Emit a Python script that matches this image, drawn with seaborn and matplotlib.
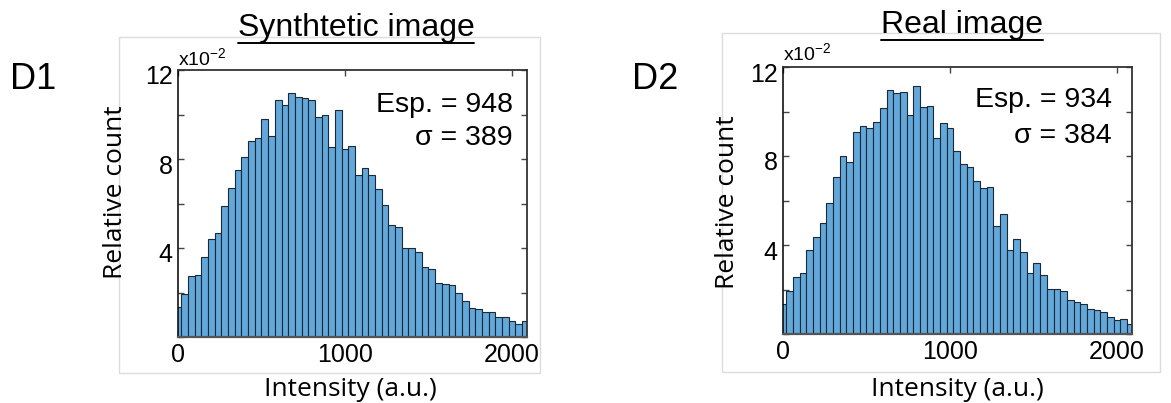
import numpy as np
import pandas as pd
import seaborn as sns
import matplotlib
matplotlib.use("Agg")
import matplotlib.pyplot as plt
import matplotlib.transforms as mtransforms
from matplotlib.patches import Rectangle
from matplotlib.lines import Line2D

# ---------------- data (relative count, in units of 1e-2) ----------------
intensity_bins = list(range(0, 2081, 40))  # bin centres (a.u.)
bin_width = 40

synthetic_counts = [1.33, 1.92, 2.73, 2.77, 3.58, 4.39, 4.69, 5.91, 6.71, 7.51,
                    8.09, 8.83, 8.93, 9.79, 9.05, 10.65, 10.41, 10.95, 10.80, 10.72,
                    10.67, 9.88, 9.96, 8.53, 10.19, 8.46, 8.60, 7.30, 7.61, 7.27,
                    6.64, 5.95, 5.02, 4.96, 4.01, 3.98, 3.80, 3.14, 3.04, 2.42,
                    2.37, 2.34, 1.96, 1.63, 1.31, 1.27, 1.14, 1.14, 0.90, 0.90,
                    0.72, 0.57, 0.72]
real_counts = [1.37, 1.94, 2.57, 2.75, 3.77, 4.37, 5.00, 5.90, 7.04, 8.02,
               7.72, 9.10, 9.37, 9.28, 9.55, 10.14, 10.96, 10.83, 10.89, 9.83,
               11.13, 10.20, 10.23, 8.80, 9.50, 9.25, 8.23, 7.63, 7.49, 6.86,
               6.55, 6.62, 4.85, 5.39, 3.77, 4.29, 3.69, 2.72, 3.20, 2.63,
               2.04, 2.04, 1.94, 1.55, 1.43, 1.37, 1.14, 1.08, 0.99, 0.77,
               0.62, 0.66, 0.44]

panel_letters = ["D1", "D2"]
panel_titles = ["Synthtetic image", "Real image"]
stat_means = [948, 934]
stat_sigmas = [389, 384]
y_ticks = [0, 2, 4, 6, 8, 10, 12]
y_tick_labels = ["", "", "4", "", "8", "", "12"]
x_ticks = [0, 1000, 2000]
x_tick_labels = ["0", "1000", "2000"]

# ---------------- style ----------------
sns.set_theme(style="white")
plt.rcParams["font.family"] = ["Liberation Sans", "DejaVu Sans"]
plt.rcParams["mathtext.default"] = "regular"
plt.rcParams["text.color"] = "black"
plt.rcParams["axes.labelcolor"] = "black"
plt.rcParams["xtick.color"] = "black"
plt.rcParams["ytick.color"] = "black"

W, H = 1171, 403
fig = plt.figure(figsize=(W / 100, H / 100), dpi=100)


def fx(x):
    return x / W


def fy(y):
    return 1 - y / H


bar_color = "#62a8db"
edge_color = "#1c2833"

# axes rectangles in pixels: left, top, right, bottom
axes_px = [(178, 70, 527, 337), (783, 67, 1132, 334)]
frames_px = [(119, 37, 540, 373), (722, 33, 1160, 372)]
letter_px = [(10, 89), (632, 89)]
xlabel_px = [(350, 396), (957, 396)]
ylabel_px = [(116, 192), (728, 202)]
sci_px = [(178, 65), (783, 60)]
stat_px = [(513, 112, 145), (1112, 107, 143)]
title_px = [(356, 36), (962, 33)]

edges = [float(e) for e in np.arange(intensity_bins[0] - bin_width / 2,
                                     intensity_bins[-1] + bin_width / 2 + 1,
                                     bin_width)]

label_shift = mtransforms.ScaledTranslation(0, -0.05, fig.dpi_scale_trans)

for i, counts in enumerate([synthetic_counts, real_counts]):
    # light frame around panel
    l, t, r, b = frames_px[i]
    fig.patches.append(Rectangle((fx(l), fy(b)), fx(r) - fx(l), fy(t) - fy(b),
                                 transform=fig.transFigure, fill=False,
                                 edgecolor="#dcdcdc", linewidth=1.0))

    l, t, r, b = axes_px[i]
    ax = fig.add_axes([fx(l), fy(b), fx(r) - fx(l), fy(t) - fy(b)])
    df = pd.DataFrame({"intensity": intensity_bins, "count": counts})
    sns.histplot(data=df, x="intensity", weights="count", bins=edges, ax=ax,
                 color=bar_color, alpha=1.0, edgecolor=edge_color,
                 linewidth=0.8, stat="count")
    ax.set_xlim(0, 2090)
    ax.set_ylim(0, 12)
    ax.set_yticks(y_ticks)
    ax.set_yticklabels(y_tick_labels)
    ax.set_xticks(x_ticks)
    ax.set_xticklabels(x_tick_labels)
    ax.tick_params(direction="in", length=4, width=1, colors="#444444",
                   labelcolor="black", labelsize=18, top=True, right=True,
                   left=True, bottom=True, pad=4)
    for lab in ax.get_yticklabels():
        lab.set_transform(lab.get_transform() + label_shift)
    for s in ax.spines.values():
        s.set_visible(True)
        s.set_color("#333333")
        s.set_linewidth(1.3)
    ax.spines["left"].set_color("black")
    ax.spines["left"].set_linewidth(1.1)
    ax.spines["bottom"].set_color("#555555")
    ax.spines["bottom"].set_linewidth(1.6)
    ax.set_xlabel("")
    ax.set_ylabel("")

    # axis labels (Myriad-like font)
    xl = xlabel_px[i]
    fig.text(fx(xl[0]), fy(xl[1]), "Intensity (a.u.)", ha="center",
             va="baseline", fontsize=19, family=["Open Sans", "DejaVu Sans"])
    yl = ylabel_px[i]
    fig.text(fx(yl[0]), fy(yl[1]), "Relative count", ha="center", va="center",
             rotation=90, fontsize=19, family=["Open Sans", "DejaVu Sans"])

    # scale factor
    sp = sci_px[i]
    fig.text(fx(sp[0]), fy(sp[1]), "x10$^{-2}$", ha="left", va="baseline",
             fontsize=14)

    # statistics
    st = stat_px[i]
    fig.text(fx(st[0]), fy(st[1]), f"Esp. = {stat_means[i]}", ha="right",
             va="baseline", fontsize=20.5)
    fig.text(fx(st[0]), fy(st[2]), f"σ = {stat_sigmas[i]}", ha="right",
             va="baseline", fontsize=20.5)

    # panel letter
    lp = letter_px[i]
    fig.text(fx(lp[0]), fy(lp[1]), panel_letters[i], ha="left",
             va="baseline", fontsize=26)

    # underlined title
    tp = title_px[i]
    ttl = fig.text(fx(tp[0]), fy(tp[1]), panel_titles[i], ha="center",
                   va="baseline", fontsize=23)
    fig.canvas.draw()
    bb = ttl.get_window_extent()
    uy = fy(tp[1] + 7)
    fig.lines.append(Line2D([bb.x0 / W, bb.x1 / W], [uy, uy],
                            transform=fig.transFigure, color="black",
                            linewidth=1.4))

fig.savefig("out.png", dpi=100)
